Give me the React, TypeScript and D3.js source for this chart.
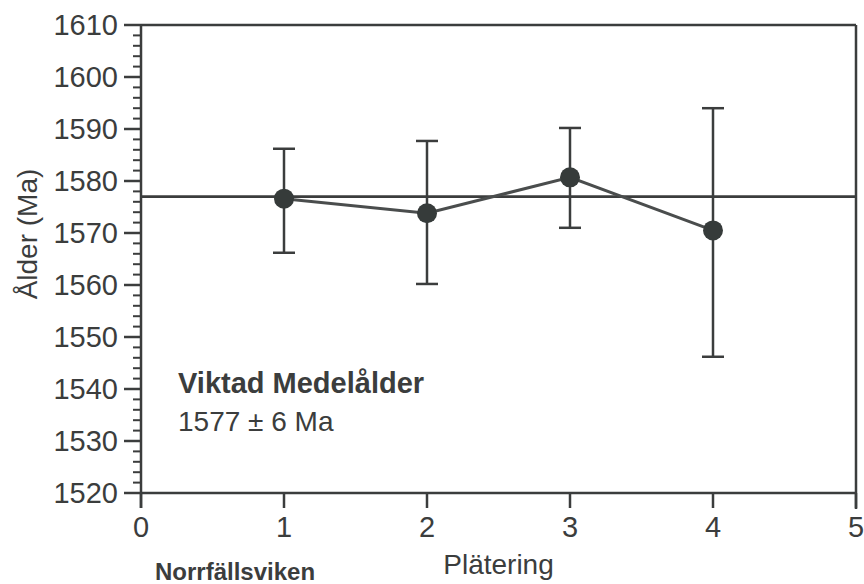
import React from "react";
import * as d3 from "d3";

// plating runs and their ages (Ma)
const platings = [1, 2, 3, 4];
const ages = [1576.6, 1573.8, 1580.7, 1570.5];
const errHigh = [1586.2, 1587.7, 1590.2, 1594.0];
const errLow = [1566.2, 1560.2, 1571.0, 1546.2];
const weightedMean = 1577;
const meanError = 6;

const xTicks = [0, 1, 2, 3, 4, 5];
const yTicks = [1520, 1530, 1540, 1550, 1560, 1570, 1580, 1590, 1600, 1610];
const yMinorTicks = d3.range(1520, 1611, 2);

const W = 864;
const H = 584;
const ink = "#3b3d3d";
const font = "'Liberation Sans', Arial, Helvetica, sans-serif";

const App = () => {
  const x = d3.scaleLinear().domain([0, 5]).range([141, 856]);
  const y = d3.scaleLinear().domain([1520, 1610]).range([493, 25]);

  const line = d3
    .line<number>()
    .x((d, i) => x(platings[i]))
    .y((d) => y(d));

  const x0 = x(0);
  const x5 = x(5);

  return (
    <svg
      width={W}
      height={H}
      style={{ position: "absolute", left: 0, top: 0, background: "#fff" }}
      fontFamily={font}
    >
      {/* frame */}
      <line x1={x0} x2={x5} y1={y(1610)} y2={y(1610)} stroke={ink} strokeWidth={2.5} />
      <line x1={x0} x2={x5} y1={y(1520)} y2={y(1520)} stroke={ink} strokeWidth={2.5} />
      <line x1={x0} x2={x0} y1={y(1610)} y2={y(1520) + 15} stroke={ink} strokeWidth={2.5} />
      <line x1={x5} x2={x5} y1={y(1610)} y2={y(1520) + 16} stroke={ink} strokeWidth={2.5} />

      {/* y minor ticks */}
      {yMinorTicks.map((t) => (
        <line key={"m" + t} x1={x0 - 8} x2={x0} y1={y(t)} y2={y(t)} stroke={ink} strokeWidth={2} />
      ))}
      {/* y major ticks and labels */}
      {yTicks.map((t) => (
        <g key={"y" + t}>
          <line x1={x0 - 17} x2={x0} y1={y(t)} y2={y(t)} stroke={ink} strokeWidth={2.5} />
          <text
            x={x0 - 23}
            y={y(t)}
            dy="0.36em"
            textAnchor="end"
            fontSize={29}
            fill={ink}
          >
            {t}
          </text>
        </g>
      ))}

      {/* x ticks and labels */}
      {xTicks.map((t) => (
        <g key={"x" + t}>
          <line x1={x(t)} x2={x(t)} y1={y(1520)} y2={y(1520) + 15} stroke={ink} strokeWidth={2.5} />
          <text x={x(t)} y={537} textAnchor="middle" fontSize={29} fill={ink}>
            {t}
          </text>
        </g>
      ))}

      {/* axis titles */}
      <text x={(x0 + x5) / 2} y={574} textAnchor="middle" fontSize={28} fill={ink}>
        Plätering
      </text>
      <text
        transform={`translate(37, 234) rotate(-90)`}
        textAnchor="middle"
        fontSize={28}
        fill={ink}
      >
        Ålder (Ma)
      </text>

      {/* weighted mean line */}
      <line
        x1={x0}
        x2={x5}
        y1={y(weightedMean)}
        y2={y(weightedMean)}
        stroke={ink}
        strokeWidth={2.8}
      />

      {/* error bars */}
      {platings.map((p, i) => (
        <g key={"e" + p} stroke={ink} strokeWidth={2.5}>
          <line x1={x(p)} x2={x(p)} y1={y(errHigh[i])} y2={y(errLow[i])} />
          <line x1={x(p) - 11} x2={x(p) + 11} y1={y(errHigh[i])} y2={y(errHigh[i])} />
          <line x1={x(p) - 11} x2={x(p) + 11} y1={y(errLow[i])} y2={y(errLow[i])} />
        </g>
      ))}

      {/* connecting line */}
      <path d={line(ages) || ""} fill="none" stroke="#4a4d4d" strokeWidth={3} />

      {/* points */}
      {platings.map((p, i) => (
        <circle key={"c" + p} cx={x(p)} cy={y(ages[i])} r={10} fill="#363b3a" />
      ))}

      {/* annotation */}
      <text x={178} y={393} fontSize={29} fontWeight="bold" fill={ink}>
        Viktad Medelålder
      </text>
      <text x={178} y={431} fontSize={28} fill={ink}>
        {`${weightedMean} ± ${meanError} Ma`}
      </text>

      {/* locality, at the page bottom */}
      <text x={155} y={580} fontSize={24} fontWeight="bold" fill={ink}>
        Norrfällsviken
      </text>
    </svg>
  );
};

export default App;
